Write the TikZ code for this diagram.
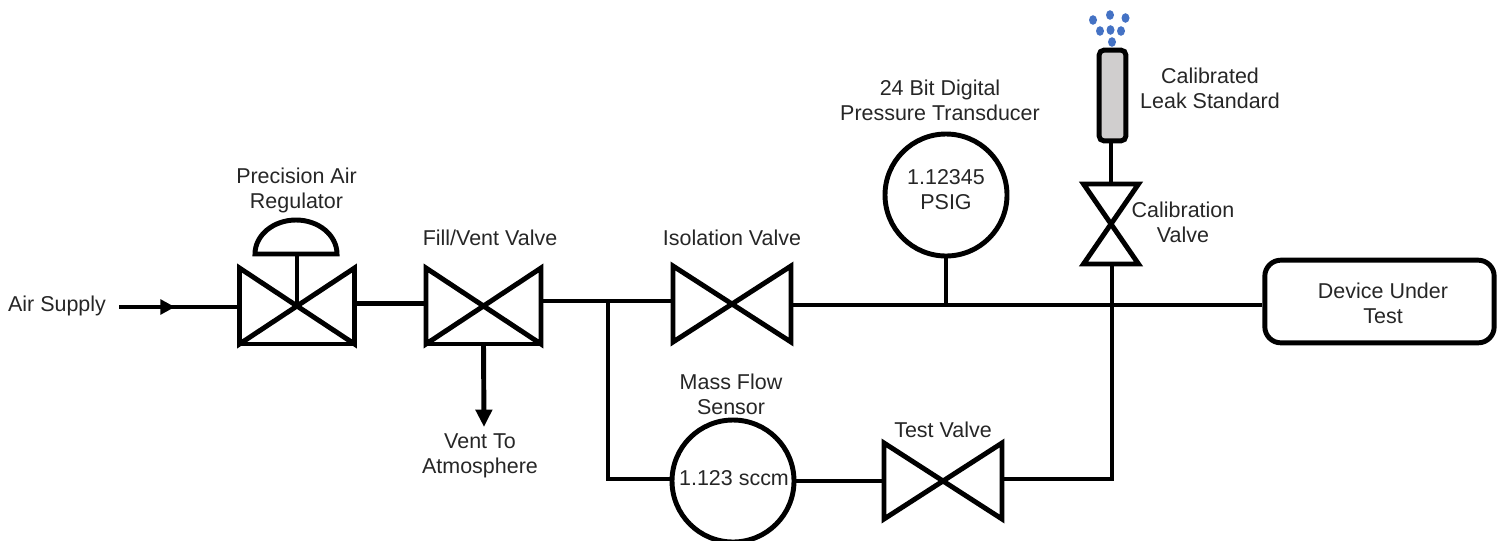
\documentclass[tikz,border=0pt]{standalone}
\usepackage{fontspec}
\setmainfont{Liberation Sans}
\usetikzlibrary{arrows.meta}
\definecolor{txt}{HTML}{262626}
\definecolor{leak}{HTML}{D0CECE}
\definecolor{drop}{HTML}{4472C4}
\tikzset{
  x=0.75pt,y=-0.75pt,
  pipe/.style={line width=3.7pt,black,line cap=butt,line join=miter},
  lbl/.style={text=txt,font=\fontsize{16.1}{18.75}\selectfont,align=center,inner sep=0pt},
  gauge/.style={circle,draw=black,line width=3.7pt,fill=white,minimum size=91.5pt,inner sep=0pt},
  vbox/.style={rectangle,inner sep=0pt,outer sep=0pt},
  dropdot/.style={fill=drop,draw=none},
  tiny tip/.style={-{Triangle[length=11pt,width=11pt]}}
}
\newcommand{\hvalve}[5]{%
  \node[vbox,minimum width=#4*0.75pt,minimum height=#5*0.75pt] (#1) at (#2,#3) {};
  \draw[pipe] (#1.north west) -- (#1.south east) -- (#1.north east) -- (#1.south west) -- cycle;}
\newcommand{\vvalve}[5]{%
  \node[vbox,minimum width=#4*0.75pt,minimum height=#5*0.75pt] (#1) at (#2,#3) {};
  \draw[pipe] (#1.north west) -- (#1.north east) -- (#1.south west) -- (#1.south east) -- cycle;}
\begin{document}
\begin{tikzpicture}
\useasboundingbox (0,0) rectangle (1502,540);
% valves
\hvalve{reg}{297}{306}{115}{76}
\hvalve{fill}{483.5}{306}{115}{76}
\hvalve{iso}{732}{304}{118}{76}
\hvalve{test}{943}{481}{118}{76}
\vvalve{cal}{1111}{224}{55}{80}
\draw[pipe] (reg.south west) -- (reg.south east);
\draw[pipe] (fill.south west) -- (fill.south east);
% named points
\coordinate (airin) at (119,307);
\coordinate (airmid) at (175,307);
\coordinate (tee) at (608,301);
\coordinate (teelow) at (608,479);
\coordinate (ventend) at (484,427);
\coordinate (returnlow) at (1112,479);
\coordinate (domeL) at (255,254);
\coordinate (domeR) at (337,254);
\node[gauge] (press) at (946,195) {};
\node[gauge] (flow) at (733,481) {};
\node[rectangle,rounded corners=12pt,draw=black,line width=3.7pt,minimum width=172pt,minimum height=62pt,inner sep=0pt] (dut) at (1379.5,301.5) {};
\node[rectangle,rounded corners=3.5pt,draw=black,line width=3.7pt,fill=leak,minimum width=20pt,minimum height=68pt,inner sep=0pt] (std) at (1112.5,95.5) {};
% connectors
\draw[pipe] (airin) -- (reg.west |- airin);
\draw[pipe,tiny tip] (airin) -- (airmid);
\draw[pipe] ([yshift=2pt]reg.east) -- ([yshift=2pt]fill.west);
\draw[pipe] (fill.east |- tee) -- (iso.west |- tee);
\draw[pipe] (tee) -- (teelow) -- (flow.west |- teelow);
\draw[pipe,-{Triangle[length=13pt,width=12pt]}] (fill.south) -- (ventend);
\draw[pipe] (iso.east |- 0,305) -- (dut.west |- 0,305);
\draw[pipe] (press.south) -- (press.south |- 0,305);
\draw[pipe] (flow.east |- test.west) -- (test.west);
\draw[pipe] (test.east |- returnlow) -- (returnlow) -- (returnlow |- cal.south);
\draw[pipe] (std.south -| cal.north) -- (cal.north);
% regulator actuator
\draw[pipe] (domeL) arc[start angle=180,end angle=360,x radius=41,y radius=34] -- cycle;
\draw[pipe] (reg.center) -- (reg.center |- domeL);
% leak bubbles
\foreach \px/\py in {1093/20,1110/15,1125.5/18,1100/31,1110.5/30,1121/31,1112/42}
  \fill[dropdot] (\px,\py) ellipse[x radius=4,y radius=4.8];
% labels
\node[lbl] at (57,306) {Air Supply};
\node[lbl] at (296.5,190) {Precision Air\\Regulator};
\node[lbl] at (490,237.5) {Fill/Vent Valve};
\node[lbl] at (732,237.5) {Isolation Valve};
\node[lbl] at (940,100.5) {24 Bit Digital\\Pressure Transducer};
\node[lbl] at (946,190) {1.12345\\PSIG};
\node[lbl] at (734,478) {1.123 sccm};
\node[lbl] at (1210,88.5) {Calibrated\\Leak Standard};
\node[lbl] at (1183,222) {Calibration\\Valve};
\node[lbl] at (1383,303) {Device Under\\Test};
\node[lbl] at (731,394) {Mass Flow\\Sensor};
\node[lbl] at (943,430) {Test Valve};
\node[lbl] at (480,456) {Vent To\\Atmosphere};
\end{tikzpicture}
\end{document}
